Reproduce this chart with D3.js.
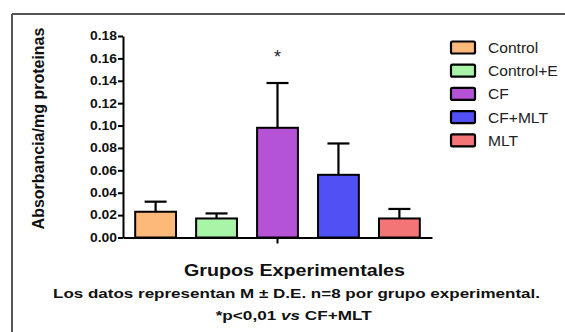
<!DOCTYPE html>
<html><head><meta charset="utf-8">
<script src="https://cdn.jsdelivr.net/npm/d3@7"></script>
<style>
html,body{margin:0;padding:0;background:#fff;}
svg{display:block;font-family:"Liberation Sans",Arial,sans-serif;}
</style></head>
<body>
<svg id="chart" width="565" height="332"></svg>
<script>
const categories = ["Control", "Control+E", "CF", "CF+MLT", "MLT"];
const means = [0.023, 0.017, 0.098, 0.056, 0.017];
const sds = [0.009, 0.0045, 0.040, 0.028, 0.0085];
const colors = ["#FDB97A", "#A8F5A8", "#B553D6", "#5050F5", "#F47575"];
const yTicks = [0, 0.02, 0.04, 0.06, 0.08, 0.10, 0.12, 0.14, 0.16, 0.18];
const significant = ["CF"];
const yTitle = "Absorbancia/mg proteinas";
const xTitle = "Grupos Experimentales";
const note1 = "Los datos representan M ± D.E. n=8 por grupo experimental.";

const svg = d3.select("#chart");

// frame lines (top & left)
svg.append("line").attr("x1",12).attr("x2",565).attr("y1",14).attr("y2",14)
  .attr("stroke","#555").attr("stroke-width",2);
svg.append("line").attr("x1",12).attr("x2",12).attr("y1",14).attr("y2",332)
  .attr("stroke","#555").attr("stroke-width",2);

const x = d3.scaleBand().domain(categories).range([123, 432])
  .paddingInner(0.33).paddingOuter(0.2);
const y = d3.scaleLinear().domain([0, 0.18]).range([237.5, 36]);

// y axis
const yAxis = svg.append("g").attr("transform","translate(123,0)")
  .call(d3.axisLeft(y).tickValues(yTicks).tickFormat(d3.format(".2f")).tickSize(5).tickSizeOuter(0));
yAxis.select(".domain").attr("stroke","#000").attr("stroke-width",2);
yAxis.selectAll(".tick line").attr("stroke","#000").attr("stroke-width",2);
yAxis.selectAll(".tick text").attr("font-size",12).attr("font-weight","bold")
  .attr("fill","#111").attr("x",-6).attr("textLength",27).attr("lengthAdjust","spacingAndGlyphs")
  .attr("font-family","Liberation Sans, Arial, sans-serif");

// x axis
const xAxis = svg.append("g").attr("transform","translate(0,237.5)")
  .call(d3.axisBottom(x).tickValues(significant).tickFormat("").tickSize(6).tickSizeOuter(0));
xAxis.select(".domain").attr("stroke","#000").attr("stroke-width",2);
xAxis.selectAll(".tick line").attr("stroke","#000").attr("stroke-width",2);

// error bars (upward only)
const eb = svg.append("g");
categories.forEach((c,i)=>{
  const cx = x(c) + x.bandwidth()/2;
  eb.append("line").attr("x1",cx).attr("x2",cx).attr("y1",y(means[i])).attr("y2",y(means[i]+sds[i]))
    .attr("stroke","#000").attr("stroke-width",2.2);
  eb.append("line").attr("x1",cx-11).attr("x2",cx+11).attr("y1",y(means[i]+sds[i])).attr("y2",y(means[i]+sds[i]))
    .attr("stroke","#000").attr("stroke-width",2.2);
});

// bars
svg.append("g").selectAll("rect").data(categories).join("rect")
  .attr("x", d=>x(d)).attr("width", x.bandwidth())
  .attr("y", (d,i)=>y(means[i])).attr("height",(d,i)=>y(0)-y(means[i]))
  .attr("fill",(d,i)=>colors[i]).attr("stroke","#000").attr("stroke-width",2);

// significance star
significant.forEach(c=>{
  const i = categories.indexOf(c);
  svg.append("text").attr("x", x(c)+x.bandwidth()/2).attr("y", y(means[i]+sds[i]) - 20)
    .attr("text-anchor","middle").attr("font-size",18).attr("fill","#222").text("*");
});

// y title
svg.append("text").attr("transform","translate(43.5,128.5) rotate(-90)")
  .attr("text-anchor","middle").attr("font-size",16).attr("font-weight","bold").attr("fill","#111")
  .text(yTitle);

// x title
svg.append("text").attr("x",294.5).attr("y",275.5).attr("text-anchor","middle")
  .attr("font-size",16.5).attr("font-weight","bold").attr("fill","#111")
  .attr("textLength",221).attr("lengthAdjust","spacingAndGlyphs").text(xTitle);

// notes
svg.append("text").attr("x",296.5).attr("y",298).attr("text-anchor","middle")
  .attr("font-size",13).attr("font-weight","bold").attr("fill","#111")
  .attr("textLength",487).attr("lengthAdjust","spacingAndGlyphs").text(note1);
const n2 = svg.append("text").attr("x",293.7).attr("y",319.5).attr("text-anchor","middle")
  .attr("font-size",13).attr("font-weight","bold").attr("fill","#111")
  .attr("textLength",156).attr("lengthAdjust","spacingAndGlyphs");
n2.append("tspan").text("*p<0,01 ");
n2.append("tspan").attr("font-style","italic").text("vs");
n2.append("tspan").text(" CF+MLT");

// legend
const leg = svg.append("g");
categories.forEach((c,i)=>{
  const ly = 47.5 + i*23.2;
  leg.append("rect").attr("x",451).attr("y",ly-6).attr("width",24).attr("height",12)
    .attr("fill",colors[i]).attr("stroke","#000").attr("stroke-width",2.2).attr("rx",1.5);
  leg.append("text").attr("x",488).attr("y",ly+5.5).attr("font-size",15).attr("fill","#222")
    .attr("transform",`translate(${488},0) scale(1.04,1) translate(${-488},0)`).text(c);
});
</script>
</body></html>
